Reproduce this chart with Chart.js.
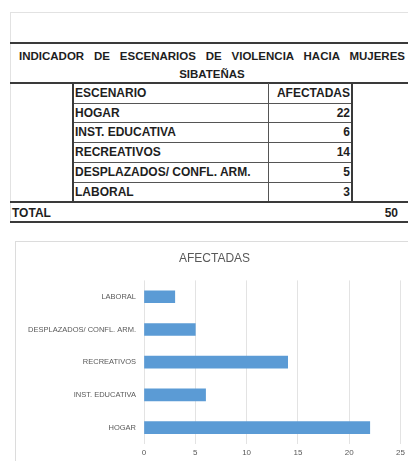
<!DOCTYPE html>
<html>
<head>
<meta charset="utf-8">
<script src="https://cdn.jsdelivr.net/npm/chart.js@4"></script>
<style>
  html, body { margin: 0; padding: 0; background: #fff; }
  body { width: 408px; height: 461px; position: relative; overflow: hidden; font-family: "Liberation Sans", Arial, sans-serif; }
  .ln { position: absolute; background: #3a3a3a; }
  .txt { position: absolute; font-weight: bold; font-size: 12px; color: #1e1e1e; white-space: pre; line-height: 14px; }
  #chartBox { position: absolute; left: 15px; top: 241px; width: 400px; height: 225px; border: 1px solid #dcdcdc; box-sizing: border-box; }
  #chart { position: absolute; left: 0; top: 0; }
</style>
</head>
<body>
<div id="sheet"></div>
<div id="chartBox"><canvas id="chart" width="393" height="220"></canvas></div>
<script>
const titleLine1 = 'INDICADOR  DE  ESCENARIOS DE VIOLENCIA  HACIA  MUJERES';
const titleLine2 = 'SIBATEÑAS';
const seriesName = 'AFECTADAS';
const columnNames = ['ESCENARIO', 'AFECTADAS'];
const categories = ['HOGAR', 'INST. EDUCATIVA', 'RECREATIVOS', 'DESPLAZADOS/ CONFL. ARM.', 'LABORAL'];
const values = [22, 6, 14, 5, 3];
const totalLabel = 'TOTAL';
const total = 50;
const xTicks = { min: 0, max: 25, step: 5 };

const SheetView = (() => {
    const root = document.getElementById('sheet');
    function line(x, y, w, h, color) {
        const d = document.createElement('div');
        d.className = 'ln';
        d.style.cssText = `left:${x}px;top:${y}px;width:${w}px;height:${h}px;` + (color ? `background:${color};` : '');
        root.appendChild(d);
    }
    function text(s, x, y, opts = {}) {
        const d = document.createElement('div');
        d.className = 'txt';
        d.textContent = s;
        d.style.left = x + 'px';
        d.style.top = y + 'px';
        if (opts.width) { d.style.width = opts.width + 'px'; }
        if (opts.align) { d.style.textAlign = opts.align; }
        if (opts.size) { d.style.fontSize = opts.size + 'px'; }
        if (opts.justify) { d.style.whiteSpace = 'normal'; d.style.textAlign = 'justify'; d.style.textAlignLast = 'justify'; }
        root.appendChild(d);
    }
    function render() {
        // outer frame of the sheet area
        line(10, 12, 398, 1, '#e2e2e2');
        line(10, 12, 1, 210, '#e2e2e2');
        line(10, 42, 398, 2);
        text(titleLine1, 19, 49, { width: 386, justify: true, size: 11.5 });
        text(titleLine2, 19, 67, { width: 386, align: 'center', size: 11.5 });
        line(10, 82, 398, 2);
        // table rows
        const rowTops = [83, 103, 122, 142, 162, 182, 202];
        for (let i = 1; i < rowTops.length - 1; i++) line(72, rowTops[i], 280, 1, '#555');
        line(72, 83, 2, 119);
        line(268, 83, 1, 119, '#555');
        line(351, 83, 2, 119);
        text(columnNames[0], 75, rowTops[0] + 3);
        text(columnNames[1], 270, rowTops[0] + 3, { width: 80, align: 'right' });
        categories.forEach((c, i) => {
            text(c, 75, rowTops[i + 1] + 3);
            text(String(values[i]), 270, rowTops[i + 1] + 3, { width: 80, align: 'right' });
        });
        line(10, 201, 398, 2);
        text(totalLabel, 12, 206);
        text(String(total), 330, 206, { width: 68, align: 'right' });
        line(10, 221, 398, 2);
    }
    return { render };
})();

const ChartView = (() => {
    let chart;
    function render() {
        const ctx = document.getElementById('chart').getContext('2d');
        chart = new Chart(ctx, {
            type: 'bar',
            data: {
                labels: categories,
                datasets: [{
                    label: seriesName,
                    data: values,
                    backgroundColor: '#5b9bd5',
                    barThickness: 12
                }]
            },
            options: {
                indexAxis: 'y',
                responsive: false,
                animation: false,
                layout: { padding: { left: 12, right: 8, top: 0, bottom: 0 } },
                plugins: {
                    legend: { display: false },
                    tooltip: { enabled: false },
                    title: {
                        display: true,
                        text: seriesName,
                        color: '#595959',
                        font: { family: 'Liberation Sans', size: 12, weight: 'normal' },
                        padding: { top: 9, bottom: 15 }
                    }
                },
                scales: {
                    x: {
                        min: xTicks.min,
                        max: xTicks.max,
                        ticks: { stepSize: xTicks.step, color: '#595959', padding: 4, font: { family: 'Liberation Sans', size: 8 } },
                        grid: { color: '#e3e3e3', drawTicks: false },
                        border: { display: false },
                        afterFit: (s) => { s.height = 18; }
                    },
                    y: {
                        reverse: true,
                        ticks: { color: '#595959', padding: 8, font: { family: 'Liberation Sans', size: 7.5 } },
                        grid: { display: false, drawTicks: false },
                        border: { display: false },
                        afterFit: (s) => { s.width = 116; }
                    }
                }
            }
        });
    }
    return { render };
})();

SheetView.render();
ChartView.render();
</script>
</body>
</html>
